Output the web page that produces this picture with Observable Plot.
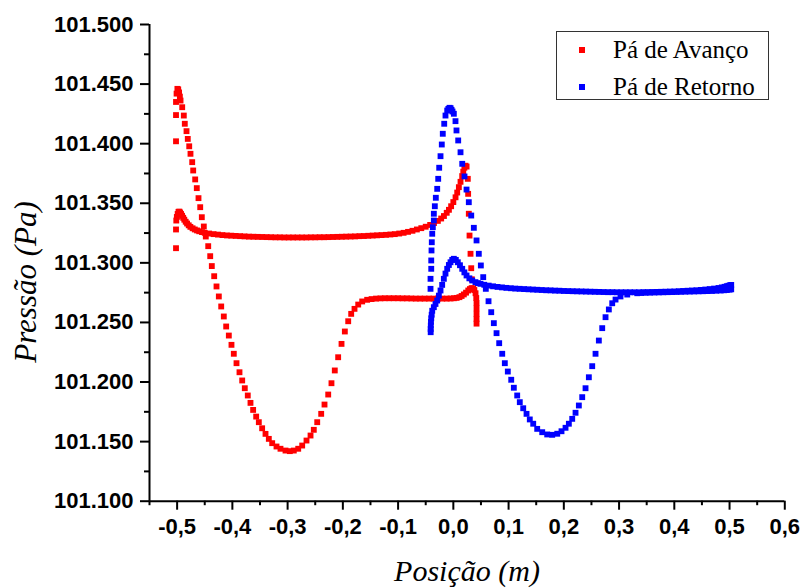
<!DOCTYPE html>
<html>
<head>
<meta charset="utf-8">
<script src="https://cdn.jsdelivr.net/npm/d3@7"></script>
<script src="https://cdn.jsdelivr.net/npm/@observablehq/plot@0.6"></script>
<style>
  html, body { margin: 0; padding: 0; background: #fff; }
  #wrap { position: relative; width: 803px; height: 588px; overflow: hidden; background: #fff; }
  #wrap svg { position: absolute; left: 0; top: 0; }
  .ttl { position: absolute; font-family: "Liberation Serif", "Times New Roman", serif; font-style: italic; color: #000; white-space: nowrap; line-height: 1; }
  #legend { position: absolute; left: 556px; top: 31px; width: 213px; height: 69px; border: 1px solid #333; background: #fff; box-sizing: border-box; }
  .lg-row { position: absolute; left: 0; font-family: "Liberation Serif", "Times New Roman", serif; font-size: 25px; color: #000; white-space: nowrap; line-height: 1; }
  .lg-sq { position: absolute; width: 6px; height: 6px; }
</style>
</head>
<body>
<div id="wrap"></div>
<script>
// ---- axes ----
const xDomain = [-0.55, 0.6];
const yDomain = [101.1, 101.5];
const xTicks = [-0.5, -0.4, -0.3, -0.2, -0.1, 0, 0.1, 0.2, 0.3, 0.4, 0.5, 0.6];
const xMinor = [-0.55, -0.45, -0.35, -0.25, -0.15, -0.05, 0.05, 0.15, 0.25, 0.35, 0.45, 0.55];
const yTicks = [101.1, 101.15, 101.2, 101.25, 101.3, 101.35, 101.4, 101.45, 101.5];
const yMinor = [101.125, 101.175, 101.225, 101.275, 101.325, 101.375, 101.425, 101.475];
const xTitle = "Posição (m)";
const yTitle = "Pressão (Pa)";

// ---- series ----
const seriesNames = ["Pá de Avanço", "Pá de Retorno"];
const seriesColors = ["#ff0000", "#0000ff"];

// Pá de Avanço – surface reaching the high leading-edge peak and the deep minimum
const avancoA = [
[-0.502,101.402],[-0.502,101.424],[-0.502,101.435],[-0.501,101.442],[-0.4995,101.446],[-0.498,101.4455],[-0.4965,101.443],[-0.495,101.4395],
[-0.4938,101.4362],[-0.4908,101.4306],[-0.4879,101.4236],[-0.4861,101.4167],[-0.483,101.4105],[-0.4807,101.404],[-0.4781,101.3978],[-0.4758,101.3915],
[-0.4727,101.3845],[-0.4709,101.3775],[-0.4673,101.37],[-0.4644,101.3627],[-0.4613,101.3543],[-0.4582,101.3467],[-0.4553,101.3383],[-0.4517,101.3305],
[-0.4481,101.3221],[-0.4437,101.314],[-0.4401,101.3056],[-0.4372,101.2973],[-0.4329,101.2888],[-0.4287,101.2802],[-0.4245,101.2718],[-0.4202,101.2634],
[-0.4155,101.255],[-0.4112,101.2466],[-0.4064,101.239],[-0.4016,101.2312],[-0.3974,101.2237],[-0.3925,101.2158],[-0.3871,101.2082],[-0.3822,101.2013],
[-0.3775,101.1948],[-0.3721,101.1887],[-0.3672,101.1825],[-0.3624,101.1766],[-0.3569,101.171],[-0.3521,101.1663],[-0.3461,101.1612],[-0.34,101.1565],
[-0.334,101.1523],[-0.3279,101.1487],[-0.3201,101.1459],[-0.3129,101.144],[-0.3038,101.1425],[-0.296,101.142],[-0.2888,101.1425],[-0.2808,101.144],
[-0.2736,101.1467],[-0.2658,101.1509],[-0.2585,101.1551],[-0.2526,101.1599],[-0.2464,101.1663],[-0.2392,101.1733],[-0.2332,101.1811],[-0.2265,101.1895],
[-0.2206,101.199],[-0.2146,101.2097],[-0.2085,101.2208],[-0.2024,101.232],[-0.1964,101.2424],[-0.1903,101.251],[-0.1849,101.2572],[-0.1789,101.2614],
[-0.1722,101.265],[-0.165,101.2676],[-0.156,101.269],[-0.148,101.2696],[-0.14,101.27],[-0.132,101.2702],[-0.124,101.2703],[-0.116,101.2703],
[-0.108,101.2703],[-0.1,101.2703],[-0.092,101.2702],[-0.084,101.2702],[-0.076,101.2701],[-0.068,101.27],[-0.06,101.27],[-0.052,101.27],
[-0.044,101.27],[-0.036,101.27],[-0.028,101.27],[-0.02,101.27],[-0.012,101.27],[-0.005,101.2701],[0.001,101.2703],[0.006,101.2706],
[0.011,101.2712],[0.015,101.2722],[0.019,101.2735],[0.023,101.275],[0.027,101.2768],[0.03,101.278],[0.033,101.2788],[0.036,101.2786],
[0.038,101.2772],[0.0402,101.2745],[0.0415,101.2705],[0.042,101.2662],[0.042,101.2618],[0.042,101.2573],[0.042,101.253],[0.042,101.249]
];

// Pá de Avanço – surface with the plateau near 101.321 and the peak at the trailing edge
const avancoB = [
[-0.502,101.3123],[-0.502,101.328],[-0.5015,101.3355],[-0.5005,101.3385],[-0.499,101.341],[-0.4975,101.3428],[-0.496,101.343],[-0.4945,101.3422],
[-0.4928,101.341],[-0.491,101.3395],[-0.489,101.3378],[-0.487,101.3362],[-0.4845,101.3345],[-0.482,101.333],[-0.479,101.3315],[-0.476,101.3302],
[-0.472,101.329],[-0.468,101.328],[-0.464,101.3272],[-0.46,101.3265],[-0.455,101.3258],[-0.45,101.3252],[-0.442,101.3246],[-0.434,101.3241],
[-0.426,101.3237],[-0.418,101.3233],[-0.41,101.323],[-0.402,101.3228],[-0.394,101.3226],[-0.386,101.3224],[-0.378,101.3222],[-0.37,101.322],
[-0.362,101.3219],[-0.354,101.3218],[-0.346,101.3217],[-0.338,101.3216],[-0.33,101.3215],[-0.322,101.3214],[-0.314,101.3214],[-0.306,101.3213],
[-0.298,101.3213],[-0.29,101.3213],[-0.282,101.3213],[-0.274,101.3213],[-0.266,101.3213],[-0.258,101.3214],[-0.25,101.3214],[-0.242,101.3215],
[-0.234,101.3215],[-0.226,101.3216],[-0.218,101.3217],[-0.21,101.3218],[-0.202,101.3219],[-0.194,101.322],[-0.186,101.3221],[-0.178,101.3222],
[-0.17,101.3224],[-0.162,101.3225],[-0.154,101.3227],[-0.146,101.3229],[-0.138,101.3231],[-0.13,101.3233],[-0.122,101.3235],[-0.114,101.3238],
[-0.106,101.3241],[-0.098,101.3246],[-0.09,101.3252],[-0.082,101.326],[-0.074,101.3269],[-0.066,101.328],[-0.058,101.3291],[-0.05,101.3303],
[-0.042,101.3318],[-0.035,101.3334],[-0.028,101.3352],[-0.022,101.3372],[-0.017,101.3393],[-0.012,101.342],[-0.008,101.3445],[-0.004,101.3475],
[0,101.351],[0.004,101.355],[0.007,101.359],[0.01,101.3635],[0.013,101.368],[0.016,101.3728],[0.018,101.3765],[0.02,101.3798],
[0.022,101.3815],[0.024,101.3808],[0.0262,101.3705],[0.0268,101.3579],[0.028,101.3412],[0.0293,101.3229],[0.0311,101.3076],[0.0324,101.2955],
[0.0335,101.2862]
];

// Pá de Retorno – surface with the tall peak and the deep minimum
const retornoC = [
[-0.041,101.2418],[-0.041,101.2445],[-0.0408,101.2474],[-0.0405,101.2505],[-0.0413,101.2782],[-0.0413,101.2866],[-0.04,101.295],[-0.04,101.302],
[-0.0395,101.3104],[-0.039,101.3173],[-0.0382,101.3244],[-0.0371,101.3299],[-0.0353,101.3355],[-0.0353,101.3412],[-0.0335,101.3475],[-0.0317,101.3546],
[-0.0292,101.3621],[-0.0274,101.3705],[-0.0256,101.3798],[-0.0232,101.3895],[-0.0209,101.3993],[-0.0191,101.4083],[-0.0165,101.4167],[-0.0142,101.4236],
[-0.0111,101.4278],[-0.009,101.4292],[-0.0069,101.4301],[-0.005,101.4298],[-0.0033,101.4284],[-0.0015,101.427],[0.0009,101.4251],[0.0039,101.4189],
[0.0057,101.4111],[0.0088,101.4027],[0.013,101.3928],[0.0161,101.3831],[0.0202,101.3725],[0.0239,101.3615],[0.028,101.3509],[0.0324,101.3397],
[0.0371,101.3294],[0.042,101.3188],[0.0461,101.3076],[0.0498,101.2978],[0.0541,101.288],[0.0588,101.2782],[0.0637,101.2678],[0.0686,101.2586],
[0.0733,101.2494],[0.0782,101.241],[0.083,101.2326],[0.0885,101.2237],[0.0932,101.2158],[0.0986,101.2088],[0.1048,101.2019],[0.1095,101.1952],
[0.1156,101.1887],[0.1203,101.1831],[0.1265,101.178],[0.1325,101.1733],[0.1384,101.1686],[0.1446,101.165],[0.1518,101.1607],[0.1609,101.1579],
[0.1699,101.156],[0.179,101.1557],[0.1881,101.1566],[0.1958,101.1587],[0.2031,101.1616],[0.2091,101.165],[0.2152,101.1691],[0.2212,101.1742],
[0.2272,101.1803],[0.2333,101.1873],[0.2393,101.1948],[0.2453,101.204],[0.2514,101.2133],[0.2574,101.2237],[0.2634,101.2348],[0.2695,101.2452],
[0.2755,101.2544],[0.2815,101.2609],[0.2876,101.2661],[0.2936,101.2692],[0.3026,101.2718],[0.3148,101.2734],[0.3329,101.2745],[0.34,101.2747],
[0.348,101.2749],[0.356,101.275],[0.364,101.2751],[0.372,101.2752],[0.38,101.2753],[0.388,101.2754],[0.396,101.2755],[0.404,101.2756],
[0.412,101.2757],[0.42,101.2758],[0.428,101.2759],[0.436,101.276],[0.444,101.2761],[0.452,101.2762],[0.46,101.2763],[0.468,101.2764],
[0.476,101.2766],[0.484,101.2768],[0.49,101.277],[0.495,101.2772],[0.5,101.2775],[0.503,101.2778]
];

// Pá de Retorno – surface with the small bump near 0.0 and the long plateau
const retornoD = [
[-0.04,101.2535],[-0.0392,101.2565],[-0.0382,101.2598],[-0.0353,101.2628],[-0.0323,101.2655],[-0.0292,101.2684],[-0.0262,101.2725],[-0.0232,101.2768],
[-0.0202,101.2815],[-0.0172,101.2866],[-0.0142,101.291],[-0.0111,101.295],[-0.0081,101.2982],[-0.0051,101.3005],[-0.002,101.3025],[0.0009,101.3034],
[0.0045,101.3025],[0.0081,101.3005],[0.012,101.298],[0.0161,101.295],[0.02,101.292],[0.0239,101.2894],[0.029,101.287],[0.0342,101.2852],
[0.04,101.2838],[0.0445,101.283],[0.0492,101.2824],[0.056,101.2816],[0.064,101.2809],[0.072,101.2803],[0.08,101.2798],[0.088,101.2794],
[0.096,101.279],[0.104,101.2787],[0.112,101.2784],[0.12,101.2782],[0.128,101.278],[0.136,101.2778],[0.144,101.2776],[0.152,101.2774],
[0.16,101.2772],[0.168,101.277],[0.176,101.2769],[0.184,101.2767],[0.192,101.2766],[0.2,101.2764],[0.208,101.2763],[0.216,101.2762],
[0.224,101.2761],[0.232,101.276],[0.24,101.2759],[0.248,101.2758],[0.256,101.2757],[0.264,101.2756],[0.272,101.2755],[0.28,101.2754],
[0.288,101.2754],[0.296,101.2753],[0.304,101.2753],[0.312,101.2753],[0.32,101.2753],[0.328,101.2753],[0.336,101.2753],[0.344,101.2754],
[0.352,101.2754],[0.36,101.2755],[0.368,101.2756],[0.376,101.2757],[0.384,101.2758],[0.392,101.2759],[0.4,101.276],[0.408,101.2762],
[0.416,101.2764],[0.424,101.2766],[0.432,101.2768],[0.44,101.277],[0.448,101.2773],[0.456,101.2776],[0.464,101.278],[0.472,101.2784],
[0.48,101.2789],[0.486,101.2794],[0.491,101.2799],[0.495,101.2804],[0.498,101.2808],[0.501,101.2812],[0.503,101.2815]
];

const points = [
  ...avancoA.map(([x, y]) => ({x, y, s: seriesNames[0]})),
  ...avancoB.map(([x, y]) => ({x, y, s: seriesNames[0]})),
  ...retornoC.map(([x, y]) => ({x, y, s: seriesNames[1]})),
  ...retornoD.map(([x, y]) => ({x, y, s: seriesNames[1]}))
];

const fmtX = d => d.toFixed(1).replace(".", ",");
const fmtY = d3.format(".3f");
const tickFont = {fontSize: 22, fontWeight: "bold", fontFamily: "'Liberation Sans', Arial, Helvetica, sans-serif"};

const chart = Plot.plot({
  width: 803,
  height: 588,
  marginLeft: 149,
  marginRight: 18.7,
  marginTop: 24,
  marginBottom: 87.3,
  style: {background: "transparent", color: "#000", overflow: "visible"},
  x: {domain: xDomain},
  y: {domain: yDomain},
  color: {domain: seriesNames, range: seriesColors},
  marks: [
    Plot.dot(points, {x: "x", y: "y", fill: "s", symbol: "square", r: 3.3, stroke: "none"}),
    Plot.axisX(xMinor, {tickSize: 4.5, tickFormat: () => "", strokeWidth: 2, label: null}),
    Plot.axisY(yMinor, {tickSize: 5, tickFormat: () => "", strokeWidth: 2, label: null}),
    Plot.axisX(xTicks, {tickSize: 9, tickPadding: 8, tickFormat: fmtX, strokeWidth: 2, label: null, ...tickFont}),
    Plot.axisY(yTicks, {tickSize: 9, tickPadding: 7, tickFormat: fmtY, strokeWidth: 2, label: null, ...tickFont}),
    Plot.ruleY([yDomain[0]], {stroke: "#000", strokeWidth: 2}),
    Plot.ruleX([xDomain[0]], {stroke: "#000", strokeWidth: 2})
  ]
});

const wrap = document.getElementById("wrap");
wrap.appendChild(chart);

// axis titles
const xt = document.createElement("div");
xt.className = "ttl";
xt.textContent = xTitle;
xt.style.fontSize = "30px";
xt.style.left = "467px";
xt.style.top = "571px";
xt.style.transform = "translate(-50%, -50%)";
wrap.appendChild(xt);

const yt = document.createElement("div");
yt.className = "ttl";
yt.textContent = yTitle;
yt.style.fontSize = "31px";
yt.style.left = "25px";
yt.style.top = "282px";
yt.style.transform = "translate(-50%, -50%) rotate(-90deg)";
wrap.appendChild(yt);

// legend
const lg = document.createElement("div");
lg.id = "legend";
seriesNames.forEach((name, i) => {
  const sq = document.createElement("div");
  sq.className = "lg-sq";
  sq.style.background = seriesColors[i];
  sq.style.left = "22px";
  sq.style.top = (15 + i * 37) + "px";
  lg.appendChild(sq);
  const t = document.createElement("div");
  t.className = "lg-row";
  t.textContent = name;
  t.style.left = "56px";
  t.style.top = (5 + i * 37) + "px";
  lg.appendChild(t);
});
wrap.appendChild(lg);
</script>
</body>
</html>
